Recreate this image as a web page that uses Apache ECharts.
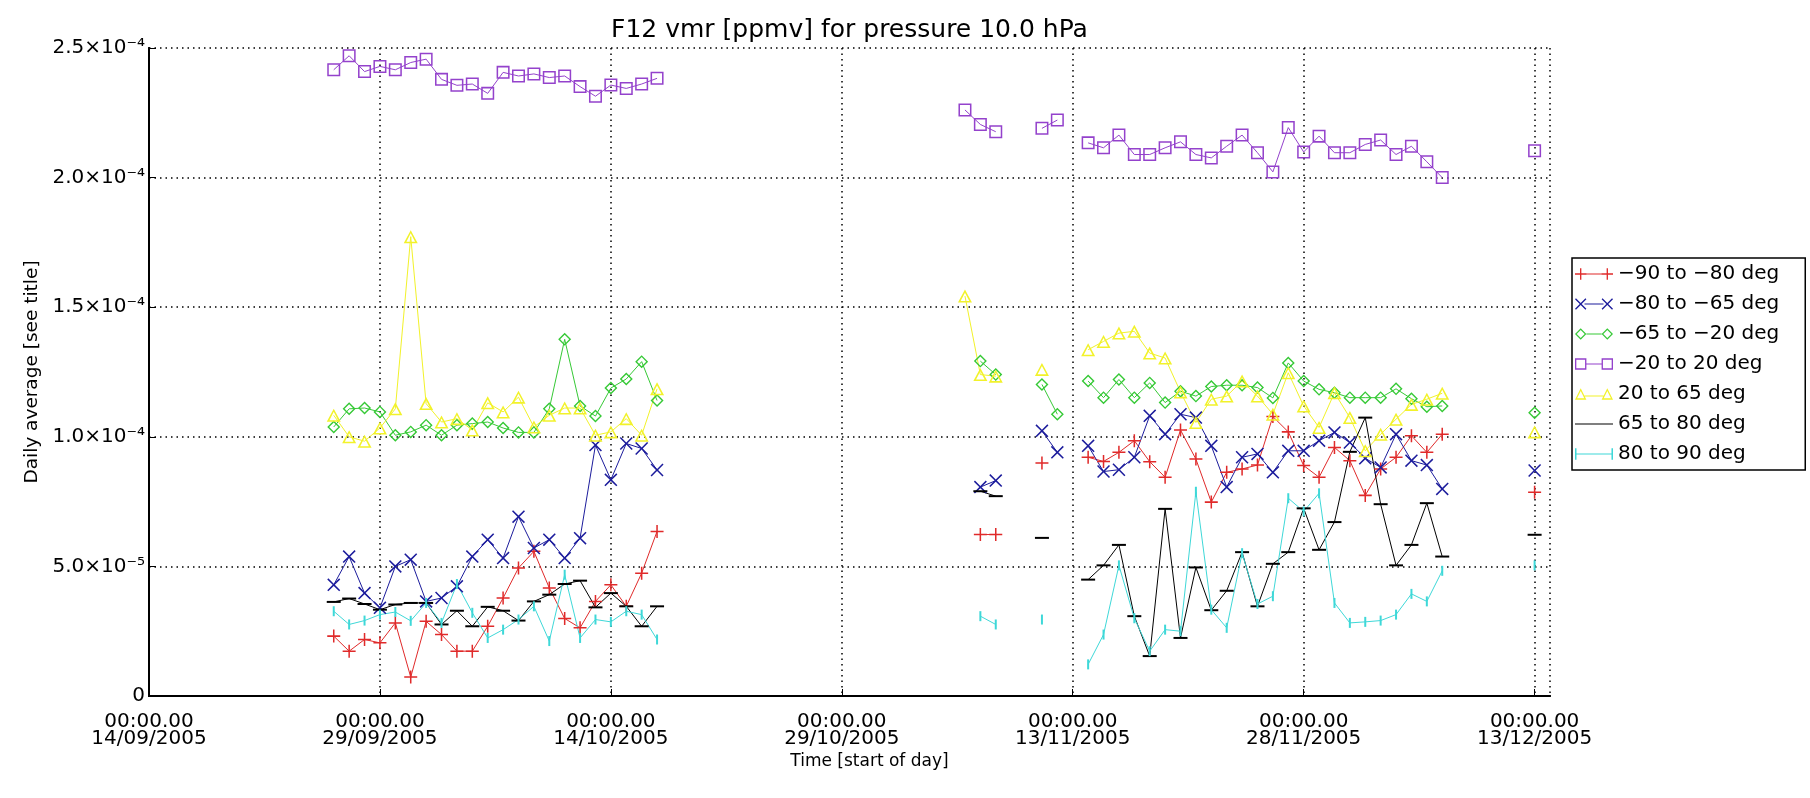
<!DOCTYPE html>
<html>
<head>
<meta charset="utf-8">
<title>F12 vmr</title>
<script src="https://cdn.jsdelivr.net/npm/echarts@6/dist/echarts.min.js"></script>
<style>
  * { margin: 0; padding: 0; }
  body { background: #fff; }
  #chart { width: 1810px; height: 798px; }
</style>
</head>
<body>
<div id="chart"></div>
<script>
// day offsets from 14/09/2005 00:00
var days = [12, 13, 14, 15, 16, 17, 18, 19, 20, 21, 22, 23, 24, 25, 26, 27, 28, 29, 30, 31, 32, 33,
  53, 54, 55,
  58, 59,
  61, 62, 63, 64, 65, 66, 67, 68, 69, 70, 71, 72, 73, 74, 75, 76, 77, 78, 79, 80, 81, 82, 83, 84,
  90];

// values in units of 1e-4 ppmv
var s90to80 = [0.231, 0.173, 0.218, 0.205, 0.282, 0.073, 0.288, 0.237, 0.173, 0.173, 0.269, 0.378, 0.494, 0.558, 0.417, 0.299, 0.263, 0.365, 0.429, 0.346, 0.474, 0.635,
  null, 0.623, 0.623,
  0.899, null,
  0.921, 0.905, 0.940, 0.985, 0.904, 0.844, 1.026, 0.914, 0.748, 0.863, 0.876, 0.891, 1.078, 1.019, 0.889, 0.844, 0.959, 0.908, 0.774, 0.876, 0.921, 1.004, 0.940, 1.010,
  0.786];
var s80to65 = [0.429, 0.538, 0.397, 0.340, 0.500, 0.526, 0.365, 0.378, 0.423, 0.538, 0.603, 0.532, 0.692, 0.571, 0.603, 0.532, 0.609, 0.968, 0.834, 0.974, 0.955, 0.872,
  null, 0.806, 0.831,
  1.023, 0.940,
  0.965, 0.866, 0.873, 0.921, 1.081, 1.010, 1.087, 1.074, 0.965, 0.806, 0.921, 0.934, 0.863, 0.946, 0.946, 0.985, 1.017, 0.978, 0.917, 0.882, 1.010, 0.908, 0.891, 0.799,
  0.870];
var s65to20 = [1.038, 1.108, 1.111, 1.096, 1.006, 1.019, 1.045, 1.006, 1.045, 1.051, 1.057, 1.034, 1.017, 1.017, 1.108, 1.376, 1.119, 1.080, 1.188, 1.223, 1.290, 1.140,
  null, 1.292, 1.240,
  1.202, 1.087,
  1.215, 1.151, 1.221, 1.151, 1.208, 1.132, 1.176, 1.157, 1.194, 1.199, 1.199, 1.190, 1.150, 1.285, 1.215, 1.183, 1.170, 1.151, 1.151, 1.151, 1.185, 1.147, 1.116, 1.119,
  1.093];
var s20to20 = [2.416, 2.470, 2.409, 2.429, 2.416, 2.444, 2.457, 2.379, 2.356, 2.361, 2.325, 2.406, 2.392, 2.400, 2.386, 2.392, 2.351, 2.314, 2.357, 2.344, 2.361, 2.383,
  2.261, 2.205, 2.177,
  2.190, 2.222,
  2.134, 2.115, 2.164, 2.089, 2.089, 2.115, 2.138, 2.089, 2.076, 2.121, 2.164, 2.096, 2.022, 2.193, 2.099, 2.160, 2.096, 2.096, 2.128, 2.145, 2.089, 2.121, 2.061, 2.000,
  2.104];
var n20to65 = [1.083, 1.000, 0.983, 1.034, 1.108, 1.772, 1.128, 1.057, 1.070, 1.026, 1.131, 1.096, 1.153, 1.038, 1.083, 1.111, 1.111, 1.006, 1.019, 1.070, 1.006, 1.185,
  1.543, 1.240, 1.234,
  1.260, null,
  1.336, 1.368, 1.400, 1.407, 1.323, 1.304, 1.173, 1.055, 1.145, 1.157, 1.215, 1.157, 1.087, 1.247, 1.119, 1.036, 1.170, 1.074, 0.946, 1.010, 1.068, 1.125, 1.145, 1.168,
  1.019];
var n65to80 = [0.363, 0.376, 0.355, 0.333, 0.353, 0.359, 0.359, 0.276, 0.329, 0.269, 0.344, 0.329, 0.291, 0.365, 0.391, 0.432, 0.445, 0.342, 0.397, 0.346, 0.269, 0.346,
  null, 0.790, 0.771,
  0.610, null,
  0.449, 0.504, 0.583, 0.308, 0.154, 0.722, 0.224, 0.496, 0.331, 0.406, 0.555, 0.346, 0.510, 0.555, 0.724, 0.564, 0.671, 0.942, 1.074, 0.740, 0.504, 0.583, 0.744, 0.538,
  0.622];
var n80to90 = [0.327, 0.276, 0.291, 0.314, 0.324, 0.290, 0.359, 0.282, 0.432, 0.321, 0.224, 0.256, 0.295, 0.346, 0.212, 0.468, 0.224, 0.295, 0.286, 0.327, 0.314, 0.218,
  null, 0.308, 0.276,
  0.295, null,
  0.122, 0.237, 0.504, 0.300, 0.173, 0.256, 0.250, 0.788, 0.333, 0.263, 0.551, 0.355, 0.385, 0.763, 0.712, 0.782, 0.359, 0.282, 0.286, 0.291, 0.314, 0.394, 0.365, 0.483,
  0.504];

var xTickLabels = ['00:00.00\n14/09/2005', '00:00.00\n29/09/2005', '00:00.00\n14/10/2005',
  '00:00.00\n29/10/2005', '00:00.00\n13/11/2005', '00:00.00\n28/11/2005', '00:00.00\n13/12/2005'];
var yTickLabels = ['0', '5.0×10⁻⁵', '1.0×10⁻⁴', '1.5×10⁻⁴', '2.0×10⁻⁴', '2.5×10⁻⁴'];

var FONT = 'DejaVu Sans';

// marker shapes (filled outlines)
var SYM = {
  plus: 'path://M5.3,0H6.7V5.3H12V6.7H6.7V12H5.3V6.7H0V5.3H5.3Z',
  cross: 'path://M0,1L1,0L6,5L11,0L12,1L7,6L12,11L11,12L6,7L1,12L0,11L5,6Z',
  diamond: 'path://M6,0L12,6L6,12L0,6Z M6,1.8L1.8,6L6,10.2L10.2,6Z',
  square: 'path://M0,0H12V12H0Z M1.4,1.4V10.6H10.6V1.4Z',
  triangle: 'path://M6,0L12,11L0,11Z M6,2.6L2.3,9.7L9.7,9.7Z'
};
// legend icons: marker - line - marker
var ICON = {
  plus: 'path://M5.3,0H6.7V5.3H12V6.7H6.7V12H5.3V6.7H0V5.3H5.3Z M33.3,0H34.7V5.3H40V6.7H34.7V12H33.3V6.7H28V5.3H33.3Z M12,5.5H28V6.5H12Z',
  cross: 'path://M0,1L1,0L6,5L11,0L12,1L7,6L12,11L11,12L6,7L1,12L0,11L5,6Z M28,1L29,0L34,5L39,0L40,1L35,6L40,11L39,12L34,7L29,12L28,11L33,6Z M10,5.5H30V6.5H10Z',
  diamond: 'path://M6,0L12,6L6,12L0,6Z M6,1.8L1.8,6L6,10.2L10.2,6Z M34,0L40,6L34,12L28,6Z M34,1.8L29.8,6L34,10.2L38.2,6Z M12,5.5H28V6.5H12Z',
  square: 'path://M0,0H12V12H0Z M1.4,1.4V10.6H10.6V1.4Z M28,0H40V12H28Z M29.4,1.4V10.6H38.6V1.4Z M12,5.5H28V6.5H12Z',
  triangle: 'path://M6,0L12,12L0,12Z M6,2.8L2.2,10.6L9.8,10.6Z M34,0L40,12L28,12Z M34,2.8L30.2,10.6L37.8,10.6Z M10,7.5H30V8.5H10Z',
  line: 'path://M0,0L0,0Z M0,5.4H40V6.6H0Z M40,12L40,12Z',
  bars: 'path://M0,0H1.6V12H0Z M38.4,0H40V12H38.4Z M0,5.5H40V6.5H0Z'
};

function toData(vals) {
  var out = [];
  for (var i = 0; i < days.length; i++) {
    if (i > 0 && days[i] - days[i - 1] > 1) out.push([days[i - 1] + 1, null]);
    out.push([days[i], vals[i]]);
  }
  return out;
}

function mkSeries(name, vals, color, symbol, size) {
  return {
    name: name,
    type: 'line',
    data: toData(vals),
    symbol: symbol,
    symbolSize: size,
    showSymbol: true,
    connectNulls: false,
    lineStyle: { color: color, width: 1 },
    itemStyle: { color: color, borderWidth: 0 },
    emphasis: { disabled: true }
  };
}

var chart = echarts.init(document.getElementById('chart'));
var gridLine = { show: true, lineStyle: { color: '#000', width: 1.5, type: [1.5, 4] } };

chart.setOption({
  animation: false,
  backgroundColor: '#fff',
  grid: { left: 149, right: 260, top: 48, bottom: 102, containLabel: false },
  legend: {
    orient: 'vertical',
    left: 1572,
    top: 258,
    padding: [6, 26, 6, 3],
    itemWidth: 38,
    itemHeight: 12,
    itemGap: 10,
    borderColor: '#000',
    borderWidth: 1.5,
    textStyle: { fontFamily: FONT, fontSize: 20, color: '#000' },
    data: [
      { name: '−90 to −80 deg', icon: ICON.plus },
      { name: '−80 to −65 deg', icon: ICON.cross },
      { name: '−65 to −20 deg', icon: ICON.diamond },
      { name: '−20 to 20 deg', icon: ICON.square },
      { name: '20 to 65 deg', icon: ICON.triangle },
      { name: '65 to 80 deg', icon: ICON.line },
      { name: '80 to 90 deg', icon: ICON.bars }
    ]
  },
  xAxis: [{
    type: 'value',
    min: 0,
    max: 91,
    interval: 15,
    name: 'Time [start of day]',
    nameLocation: 'middle',
    nameGap: 54,
    nameTextStyle: { fontFamily: FONT, fontSize: 17, color: '#000', padding: [0, 0, 0, 40] },
    axisLine: { show: true, lineStyle: { color: '#000', width: 2 } },
    axisTick: { show: true, inside: true, length: 7, lineStyle: { color: '#000' } },
    axisLabel: {
      fontFamily: FONT, fontSize: 20, color: '#000', lineHeight: 17, margin: 17,
      showMaxLabel: false,
      formatter: function (v) { return v % 15 === 0 ? xTickLabels[v / 15] : ''; }
    },
    splitLine: gridLine
  }, {
    type: 'value',
    position: 'top',
    min: 0,
    max: 91,
    name: 'F12 vmr [ppmv] for pressure 10.0 hPa',
    nameLocation: 'middle',
    nameGap: 5,
    nameTextStyle: { fontFamily: FONT, fontSize: 25, color: '#000', verticalAlign: 'bottom' },
    axisLine: { show: true, lineStyle: { color: '#000', width: 2 } },
    axisTick: { show: false },
    axisLabel: { show: false },
    splitLine: { show: false }
  }],
  yAxis: [{
    type: 'value',
    min: 0,
    max: 2.5,
    interval: 0.5,
    name: 'Daily average [see title]',
    nameLocation: 'middle',
    nameGap: 106,
    nameTextStyle: { fontFamily: FONT, fontSize: 18.5, color: '#000' },
    axisLine: { show: true, lineStyle: { color: '#000', width: 2 } },
    axisTick: { show: true, inside: true, length: 7, lineStyle: { color: '#000' } },
    axisLabel: {
      fontFamily: FONT, fontSize: 20, color: '#000', margin: 4,
      formatter: function (v) { return yTickLabels[Math.round(v / 0.5)]; }
    },
    splitLine: gridLine
  }, {
    type: 'value',
    position: 'right',
    min: 0,
    max: 2.5,
    axisLine: { show: true, lineStyle: { color: '#000', width: 2 } },
    axisTick: { show: false },
    axisLabel: { show: false },
    splitLine: { show: false }
  }],
  series: [
    mkSeries('−90 to −80 deg', s90to80, '#e02a2a', SYM.plus, 13),
    mkSeries('−80 to −65 deg', s80to65, '#1c1c9c', SYM.cross, 13),
    mkSeries('−65 to −20 deg', s65to20, '#36c936', SYM.diamond, 13),
    mkSeries('−20 to 20 deg', s20to20, '#9442cc', SYM.square, 13),
    mkSeries('20 to 65 deg', n20to65, '#f2f22a', SYM.triangle, [14, 13]),
    mkSeries('65 to 80 deg', n65to80, '#000000', 'rect', [14, 2]),
    mkSeries('80 to 90 deg', n80to90, '#3ed8d8', 'rect', [2, 10])
  ]
});
</script>
</body>
</html>
